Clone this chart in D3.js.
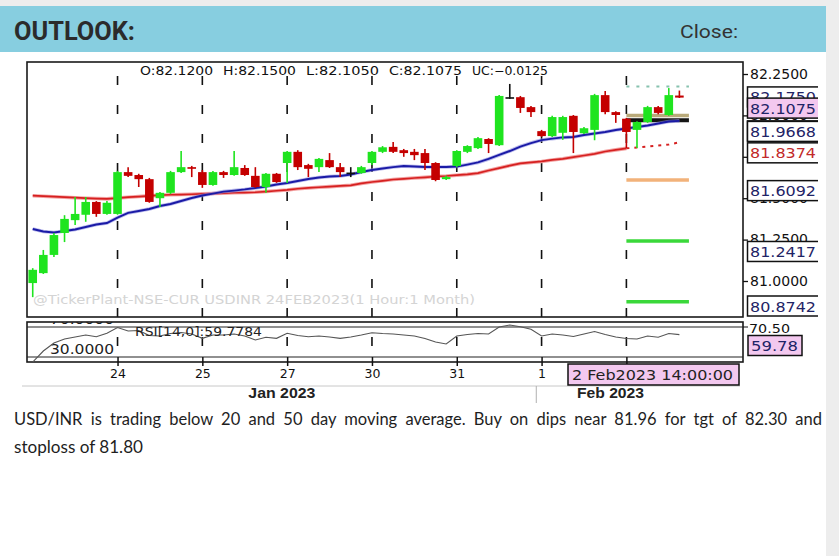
<!DOCTYPE html>
<html>
<head>
<meta charset="utf-8">
<script src="https://cdn.jsdelivr.net/npm/d3@7"></script>
<style>
  html, body { margin: 0; padding: 0; background: #fff; }
  svg { display: block; }
</style>
</head>
<body>
<div id="chart"></div>
<script>
// hourly USDINR candles, 23 Jan -> 2 Feb 2023 : [open, high, low, close]
const candles = [
  [80.9875, 81.0775, 80.9025, 81.0675],
  [81.0475, 81.1875, 81.0425, 81.1575],
  [81.1575, 81.2900, 81.1450, 81.2775],
  [81.2900, 81.3975, 81.2350, 81.3750],
  [81.3675, 81.5075, 81.3375, 81.4050],
  [81.4000, 81.5075, 81.3575, 81.4775],
  [81.4775, 81.4825, 81.3875, 81.4050],
  [81.4050, 81.4825, 81.4000, 81.4725],
  [81.4050, 81.6650, 81.4000, 81.6575],
  [81.6575, 81.6875, 81.6275, 81.6350],
  [81.6400, 81.6475, 81.5675, 81.6150],
  [81.6150, 81.6225, 81.4725, 81.4775],
  [81.5000, 81.5375, 81.4475, 81.5325],
  [81.5325, 81.6650, 81.5250, 81.6575],
  [81.6575, 81.7850, 81.6525, 81.6875],
  [81.6875, 81.6950, 81.6275, 81.6775],
  [81.6575, 81.6700, 81.5625, 81.5800],
  [81.5800, 81.6650, 81.5750, 81.6575],
  [81.6575, 81.6650, 81.6225, 81.6400],
  [81.6400, 81.7850, 81.6350, 81.6875],
  [81.6825, 81.7000, 81.6350, 81.6400],
  [81.6350, 81.6875, 81.5625, 81.5675],
  [81.5675, 81.6525, 81.5325, 81.6475],
  [81.6475, 81.6525, 81.5925, 81.5975],
  [81.7125, 81.7850, 81.5925, 81.7800],
  [81.7800, 81.7900, 81.6700, 81.6875],
  [81.7000, 81.7075, 81.6275, 81.6775],
  [81.6875, 81.7425, 81.6575, 81.7375],
  [81.7300, 81.7725, 81.6825, 81.6875],
  [81.6875, 81.7125, 81.6275, 81.6575],
  [81.6550, 81.6875, 81.6275, 81.6550],
  [81.6525, 81.6950, 81.6475, 81.6875],
  [81.7125, 81.7850, 81.7000, 81.7800],
  [81.7800, 81.8150, 81.7725, 81.8075],
  [81.8100, 81.8400, 81.7725, 81.7800],
  [81.7900, 81.7975, 81.7500, 81.7725],
  [81.7800, 81.7975, 81.7300, 81.7600],
  [81.7725, 81.7975, 81.6700, 81.7125],
  [81.7125, 81.7175, 81.6025, 81.6100],
  [81.6150, 81.6350, 81.6100, 81.6275],
  [81.6950, 81.7900, 81.6875, 81.7850],
  [81.7800, 81.8200, 81.7725, 81.8150],
  [81.8025, 81.8700, 81.7975, 81.8625],
  [81.8575, 81.8625, 81.7725, 81.8275],
  [81.8200, 82.1225, 81.8150, 82.1175],
  [82.1100, 82.1900, 82.1000, 82.1100],
  [82.1100, 82.1175, 82.0150, 82.0450],
  [82.0500, 82.0575, 81.9900, 82.0200],
  [81.9050, 81.9125, 81.8700, 81.8750],
  [81.8750, 81.9975, 81.8700, 81.9900],
  [81.8950, 81.9975, 81.8525, 81.9900],
  [81.9975, 82.0025, 81.7725, 81.9000],
  [81.8925, 81.9300, 81.8875, 81.9225],
  [81.9125, 82.1300, 81.8500, 82.1225],
  [82.1225, 82.1475, 82.0075, 82.0200],
  [82.0200, 82.0250, 81.9550, 82.0025],
  [81.9800, 81.9850, 81.8025, 81.9000],
  [81.9125, 81.9650, 81.8025, 81.9600],
  [81.9600, 82.0575, 81.9550, 82.0500],
  [82.0500, 82.0575, 82.0075, 82.0150],
  [82.0025, 82.1650, 81.9975, 82.1225],
  [82.1200, 82.1500, 82.1050, 82.1075]
];

// moving averages (blue = short, red = long)
const maShort = [
  81.314, 81.299, 81.293, 81.302, 81.311, 81.326, 81.341, 81.350, 81.383, 81.411,
  81.423, 81.435, 81.453, 81.465, 81.483, 81.501, 81.516, 81.528, 81.540, 81.546,
  81.553, 81.562, 81.571, 81.583, 81.592, 81.604, 81.616, 81.625, 81.631, 81.634,
  81.643, 81.658, 81.670, 81.679, 81.688, 81.694, 81.691, 81.688, 81.688, 81.688,
  81.691, 81.703, 81.716, 81.737, 81.761, 81.785, 81.812, 81.833, 81.851, 81.860,
  81.867, 81.870, 81.882, 81.891, 81.900, 81.912, 81.921, 81.930, 81.939, 81.951,
  81.963, 81.9668
];
const maLong = [
  81.515, 81.512, 81.509, 81.506, 81.503, 81.500, 81.498, 81.496, 81.501, 81.506,
  81.510, 81.514, 81.518, 81.521, 81.522, 81.524, 81.526, 81.528, 81.530, 81.533,
  81.534, 81.536, 81.540, 81.545, 81.550, 81.557, 81.562, 81.566, 81.570, 81.574,
  81.578, 81.589, 81.598, 81.605, 81.613, 81.617, 81.622, 81.626, 81.631, 81.634,
  81.639, 81.644, 81.651, 81.667, 81.682, 81.697, 81.710, 81.716, 81.722, 81.731,
  81.738, 81.748, 81.758, 81.768, 81.782, 81.792, 81.801, 81.806, 81.812, 81.818,
  81.824, 81.8374
];

// RSI(14)
const rsi = [
  23.3, 38.0, 48.7, 54.0, 56.7, 59.3, 57.1, 61.6, 69.3, 64.7,
  65.3, 58.7, 58.0, 61.3, 62.7, 60.7, 54.9, 59.3, 59.3, 60.7,
  58.0, 52.7, 56.3, 54.9, 61.6, 58.7, 57.1, 58.0, 56.7, 54.9,
  56.7, 59.3, 62.4, 61.3, 60.7, 59.3, 58.0, 54.7, 50.0, 47.3,
  58.0, 60.0, 61.3, 60.7, 70.0, 72.7, 70.4, 66.9, 58.0, 60.7,
  59.3, 57.3, 60.7, 64.0, 60.0, 56.7, 54.7, 54.0, 58.0, 56.3,
  61.3, 59.7784
];

const barsPerDay = 8;
const dayLabels = ["24", "25", "27", "30", "31", "1", "2"];
const monthLabels = ["Jan 2023", "Feb 2023"];
const priceTicks = [81.0, 81.25, 81.5, 81.75, 82.0, 82.25];
const levelValues = [82.175, 81.6092, 81.2417, 80.8742];   // dotted R, orange S1, green S2, S3
const pivotValues = [82.0, 81.97];
const rsiBands = [30, 70];
const lastStamp = "2 Feb2023 14:00:00";
const watermark = "@TickerPlant-NSE-CUR USDINR 24FEB2023(1 Hour:1 Month)";
const commentary = [
  "USD/INR is trading below 20 and 50 day moving average. Buy on dips near 81.96 for tgt of 82.30 and",
  "stoploss of 81.80"
];

window.onload = function () {
  const W = 839, H = 556;
  const panel = { left: 27, right: 743, top: 62, bottom: 317 };
  const rsiPanel = { top: 322, bottom: 362 };
  const chartFont = "DejaVu Sans";
  const green = "#1fe41f", red = "#c40000", pink = "#f3c8ef", navy = "#1f2466";

  const svg = d3.select("#chart").append("svg")
    .attr("width", W).attr("height", H);

  // page background + header band
  svg.append("rect").attr("width", W).attr("height", H).attr("fill", "#fff");
  svg.append("rect").attr("width", W).attr("height", 6).attr("fill", "#ededed");
  svg.append("rect").attr("x", 826).attr("width", 13).attr("height", H).attr("fill", "#ededed");
  svg.append("rect").attr("y", 6).attr("width", 826).attr("height", 46).attr("fill", "#87cee0");

  svg.append("text").attr("x", 14).attr("y", 40)
    .attr("font-family", "Roboto").attr("font-weight", "bold").attr("font-size", 26)
    .attr("textLength", 121).attr("lengthAdjust", "spacingAndGlyphs")
    .attr("fill", "#2b2b2b").text("OUTLOOK:");
  svg.append("text").attr("x", 680).attr("y", 38)
    .attr("font-family", "Roboto").attr("font-size", 19)
    .attr("textLength", 58).attr("lengthAdjust", "spacingAndGlyphs")
    .attr("fill", "#333").text("Close:");

  // --- scales ---
  const x = d3.scaleLinear().domain([-0.54, 67]).range([panel.left, panel.right]);
  const y = d3.scaleLinear().domain([80.7826, 82.3225]).range([panel.bottom, panel.top]);
  const yR = d3.scaleLinear().domain([23.333, 76.667]).range([rsiPanel.bottom, rsiPanel.top]);

  const defs = svg.append("defs");
  defs.append("clipPath").attr("id", "imgClip")
    .append("rect").attr("x", 0).attr("y", 54).attr("width", 818).attr("height", 350);
  defs.append("clipPath").attr("id", "rsiClip")
    .append("rect").attr("x", panel.left).attr("y", rsiPanel.top)
    .attr("width", panel.right - panel.left).attr("height", rsiPanel.bottom - rsiPanel.top);

  const g = svg.append("g").attr("clip-path", "url(#imgClip)");

  // watermark
  g.append("text").attr("x", 33).attr("y", 304)
    .attr("font-family", chartFont).attr("font-size", 13)
    .attr("textLength", 442).attr("lengthAdjust", "spacingAndGlyphs")
    .attr("fill", "#d4d4d4").text(watermark);

  // day separators (dashed)
  const dayStarts = dayLabels.map((d, k) => (k + 1) * barsPerDay);
  g.append("g").selectAll("line").data(dayStarts).enter().append("line")
    .attr("x1", d => x(d)).attr("x2", d => x(d))
    .attr("y1", panel.top).attr("y2", 356)
    .attr("stroke", "#111").attr("stroke-width", 1.6)
    .attr("stroke-dasharray", "9,20").attr("stroke-dashoffset", 15);

  // projected levels on the last session
  const lastDay = dayStarts[dayStarts.length - 1];
  const lvlX1 = x(lastDay), lvlX2 = x(61.9);
  const levelStyle = [
    { v: levelValues[0], c: "#86c2ae", w: 2, dash: "3,7" },
    { v: pivotValues[0], c: "#b9aa7a", w: 3.5 },
    { v: pivotValues[1], c: "#151515", w: 4 },
    { v: levelValues[1], c: "#f2b27a", w: 3.5 },
    { v: levelValues[2], c: "#3ad83a", w: 3.5 },
    { v: levelValues[3], c: "#3ad83a", w: 3.5 }
  ];
  levelStyle.forEach(l => {
    g.append("line").attr("x1", lvlX1).attr("x2", lvlX2)
      .attr("y1", y(l.v)).attr("y2", y(l.v))
      .attr("stroke", l.c).attr("stroke-width", l.w)
      .attr("stroke-dasharray", l.dash || null);
  });

  // moving averages
  const line = d3.line().x((d, i) => x(i)).y(d => y(d));
  const longSolid = maLong.slice(0, lastDay + 1);
  g.append("path").attr("d", line(longSolid)).attr("fill", "none")
    .attr("stroke", "#f3a3a3").attr("stroke-width", 3.6);
  g.append("path").attr("d", line(longSolid)).attr("fill", "none")
    .attr("stroke", "#d62020").attr("stroke-width", 1.7);
  const longTail = maLong.map((d, i) => [i, d]).slice(lastDay);
  g.append("path")
    .attr("d", d3.line().x(d => x(d[0])).y(d => y(d[1]))(longTail))
    .attr("fill", "none").attr("stroke", "#d62020").attr("stroke-width", 2)
    .attr("stroke-dasharray", "3,5");

  g.append("path").attr("d", line(maShort)).attr("fill", "none")
    .attr("stroke", "#8d8de0").attr("stroke-width", 3.6).attr("opacity", 0.6);
  g.append("path").attr("d", line(maShort)).attr("fill", "none")
    .attr("stroke", "#1a1aa6").attr("stroke-width", 1.9);

  // candles
  const bodyW = 8.6;
  const colorOf = d => d[3] > d[0] ? green : d[3] < d[0] ? red : "#111";
  const cg = g.append("g").selectAll("g").data(candles).enter().append("g");
  cg.append("line")
    .attr("x1", (d, i) => x(i)).attr("x2", (d, i) => x(i))
    .attr("y1", d => y(d[1])).attr("y2", d => y(d[2]))
    .attr("stroke", colorOf).attr("stroke-width", 1.6);
  cg.append("rect")
    .attr("x", (d, i) => x(i) - bodyW / 2)
    .attr("width", bodyW)
    .attr("y", d => y(Math.max(d[0], d[3])))
    .attr("height", d => Math.max(1.6, Math.abs(y(d[0]) - y(d[3]))))
    .attr("fill", colorOf);

  // panel frame
  g.append("rect").attr("x", panel.left).attr("y", panel.top)
    .attr("width", panel.right - panel.left).attr("height", panel.bottom - panel.top)
    .attr("fill", "none").attr("stroke", "#1a1a1a").attr("stroke-width", 1.6);

  // OHLC readout of the last bar
  const last = candles[candles.length - 1];
  const f4 = d3.format(".4f");
  const readout = [
    "O:" + f4(last[0]), "H:" + f4(last[1]), "L:" + f4(last[2]),
    "C:" + f4(last[3]), "UC:" + f4(last[3] - last[0])
  ];
  readout.forEach((t, k) => {
    g.append("text").attr("x", 140 + k * 83).attr("y", 75)
      .attr("font-family", chartFont).attr("font-size", 12)
      .attr("textLength", k === 4 ? 76 : 73).attr("lengthAdjust", "spacingAndGlyphs")
      .attr("fill", "#111").text(t);
  });

  // right price axis
  const yAxisG = g.append("g")
    .attr("transform", `translate(${panel.right},0)`)
    .call(d3.axisRight(y).tickValues(priceTicks).tickFormat(f4).tickSize(5).tickPadding(2));
  yAxisG.select(".domain").remove();
  yAxisG.selectAll("line").attr("stroke", "#111").attr("stroke-width", 1.3);
  yAxisG.selectAll("text")
    .attr("font-family", chartFont).attr("font-size", 13.5).attr("fill", "#111")
    .attr("textLength", 58).attr("lengthAdjust", "spacingAndGlyphs");

  // value boxes on the price axis
  const boxes = [
    { v: levelValues[0], fill: "#fff", color: navy },
    { v: last[3], fill: pink, color: navy },
    { v: pivotValues[1], fill: "#fff", color: navy },
    { v: maShort[maShort.length - 1], fill: "#fff", color: navy },
    { v: maLong[maLong.length - 1], fill: "#fff", color: "#c22a2a" },
    { v: levelValues[1], fill: "#fff", color: navy },
    { v: levelValues[2], fill: "#fff", color: navy },
    { v: levelValues[3], fill: "#fff", color: navy }
  ];
  boxes.forEach(b => {
    const top = Math.min(y(b.v) + 0.5, panel.bottom - 21);
    g.append("rect").attr("x", 747.5).attr("y", top)
      .attr("width", 90).attr("height", 20)
      .attr("fill", b.fill).attr("stroke", "#111").attr("stroke-width", 1.5);
    g.append("text").attr("x", 750).attr("y", top + 15.5)
      .attr("font-family", chartFont).attr("font-size", 14)
      .attr("textLength", 66).attr("lengthAdjust", "spacingAndGlyphs")
      .attr("fill", b.color).text(f4(b.v));
  });

  // --- RSI panel ---
  g.append("rect").attr("x", panel.left).attr("y", rsiPanel.top)
    .attr("width", panel.right - panel.left).attr("height", rsiPanel.bottom - rsiPanel.top)
    .attr("fill", "#fff").attr("stroke", "#1a1a1a").attr("stroke-width", 1.6);
  // redraw the dash that falls in the RSI pane
  g.append("g").selectAll("line").data(dayStarts).enter().append("line")
    .attr("x1", d => x(d)).attr("x2", d => x(d))
    .attr("y1", 337).attr("y2", 346)
    .attr("stroke", "#111").attr("stroke-width", 1.6);

  const rg = g.append("g").attr("clip-path", "url(#rsiClip)");
  rsiBands.forEach(v => {
    rg.append("line").attr("x1", panel.left).attr("x2", panel.right)
      .attr("y1", yR(v)).attr("y2", yR(v))
      .attr("stroke", "#222").attr("stroke-width", 1.2);
  });
  rg.append("text").attr("x", 50).attr("y", yR(70) - 3.5)
    .attr("font-family", chartFont).attr("font-size", 14)
    .attr("textLength", 64).attr("lengthAdjust", "spacingAndGlyphs")
    .attr("fill", "#222").text(f4(70));
  rg.append("text").attr("x", 50).attr("y", yR(30) - 3)
    .attr("font-family", chartFont).attr("font-size", 14)
    .attr("textLength", 64).attr("lengthAdjust", "spacingAndGlyphs")
    .attr("fill", "#222").text(f4(30));
  rg.append("path")
    .attr("d", d3.line().x((d, i) => x(i)).y(d => yR(d))(rsi))
    .attr("fill", "none").attr("stroke", "#555").attr("stroke-width", 1.1);
  rg.append("text").attr("x", 135).attr("y", 335.5)
    .attr("font-family", chartFont).attr("font-size", 12.5)
    .attr("textLength", 127).attr("lengthAdjust", "spacingAndGlyphs")
    .attr("fill", "#222").text(`RSI[14,0]:${f4(rsi[rsi.length - 1])}`);

  // RSI right side readout
  g.append("line").attr("x1", panel.right).attr("x2", panel.right + 5)
    .attr("y1", yR(70)).attr("y2", yR(70)).attr("stroke", "#111");
  g.append("text").attr("x", 749).attr("y", yR(70) + 6)
    .attr("font-family", chartFont).attr("font-size", 13)
    .attr("textLength", 41).attr("lengthAdjust", "spacingAndGlyphs")
    .attr("fill", "#111").text("70.50");
  g.append("rect").attr("x", 748).attr("y", 335.5).attr("width", 54).attr("height", 20)
    .attr("fill", pink).attr("stroke", "#111").attr("stroke-width", 1.5);
  g.append("text").attr("x", 751).attr("y", 351)
    .attr("font-family", chartFont).attr("font-size", 14)
    .attr("textLength", 47).attr("lengthAdjust", "spacingAndGlyphs")
    .attr("fill", navy).text(d3.format(".2f")(rsi[rsi.length - 1]));

  // --- time axis ---
  const xAxisG = g.append("g")
    .attr("transform", `translate(0,${yR(30)})`)
    .call(d3.axisBottom(x).tickValues(dayStarts)
      .tickFormat((d, k) => dayLabels[k]).tickSize(9).tickPadding(3));
  xAxisG.select(".domain").remove();
  xAxisG.selectAll("line").attr("stroke", "#111").attr("stroke-width", 1.5);
  xAxisG.selectAll("text").attr("font-family", chartFont)
    .attr("font-size", 12.5).attr("fill", "#111");

  g.append("line").attr("x1", 22).attr("x2", 740).attr("y1", 386).attr("y2", 386)
    .attr("stroke", "#c8c8c8");
  g.append("line").attr("x1", x(47.5)).attr("x2", x(47.5)).attr("y1", 386).attr("y2", 403)
    .attr("stroke", "#b0b0b0");
  [23.5, 54.5].forEach((c, k) => {
    g.append("text").attr("x", x(c)).attr("y", 398)
      .attr("text-anchor", "middle")
      .attr("font-family", "Liberation Sans").attr("font-weight", "bold")
      .attr("font-size", 14)
      .attr("textLength", 67).attr("lengthAdjust", "spacingAndGlyphs")
      .attr("fill", "#222").text(monthLabels[k]);
  });

  // cursor time stamp
  g.append("rect").attr("x", 568).attr("y", 364).attr("width", 171).attr("height", 21)
    .attr("fill", pink).attr("stroke", "#111").attr("stroke-width", 1.5);
  g.append("text").attr("x", 572).attr("y", 380)
    .attr("font-family", chartFont).attr("font-size", 13.5)
    .attr("textLength", 161).attr("lengthAdjust", "spacingAndGlyphs")
    .attr("fill", "#222").text(lastStamp);

  // --- commentary, first line justified ---
  const c1 = svg.append("text").attr("x", 14).attr("y", 425)
    .attr("font-family", "Lato").attr("font-size", 16.5)
    .attr("fill", "#1e1e1e").text(commentary[0]);
  const natural = c1.node().getComputedTextLength();
  const gaps = commentary[0].split(" ").length - 1;
  c1.attr("word-spacing", ((822 - 14) - natural) / gaps);
  svg.append("text").attr("x", 14).attr("y", 453)
    .attr("font-family", "Lato").attr("font-size", 16.5)
    .attr("textLength", 129).attr("lengthAdjust", "spacingAndGlyphs")
    .attr("fill", "#1e1e1e").text(commentary[1]);
};
</script>
</body>
</html>
